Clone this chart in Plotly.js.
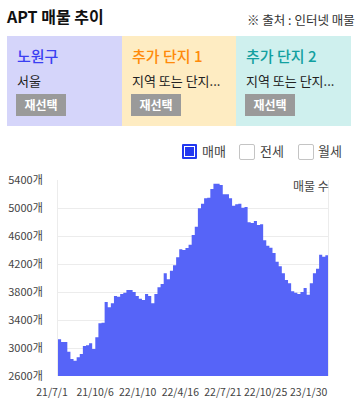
<!DOCTYPE html>
<html><head><meta charset="utf-8">
<script src="https://cdn.plot.ly/plotly-3.0.1.min.js"></script>
<style>
html,body{margin:0;padding:0;background:#fff;width:360px;height:406px;overflow:hidden;font-family:"Noto Sans CJK KR","Noto Sans",sans-serif;}
#chart{position:absolute;left:0;top:0;width:360px;height:406px;}
.ov{position:absolute;white-space:nowrap;z-index:10;}
.box{position:absolute;top:36px;height:90px;z-index:10;}
.bt{position:absolute;left:10px;top:9px;font-size:15px;font-weight:500;}
.bs{position:absolute;left:10px;top:35px;font-size:13px;color:#222;}
.btn{position:absolute;left:9px;top:58px;width:50px;height:22px;background:#9a9a9a;color:#fff;font-size:12px;font-weight:700;text-align:center;line-height:22px;}
.cb{position:absolute;top:144px;width:14px;height:14px;border:1px solid #c4c4c4;border-radius:2px;background:#fff;z-index:10;}
.cl{position:absolute;top:141px;font-size:13px;color:#444;z-index:10;}
</style></head>
<body>
<div id="chart"></div>
<div class="ov" style="left:7px;top:4px;font-size:16px;font-weight:700;color:#111;">APT 매물 추이</div>
<div class="ov" style="left:247px;top:10px;font-size:12.5px;color:#333;">※ 출처 : 인터넷 매물</div>
<div class="box" style="left:7px;width:115px;background:#d5d5fa;">
  <div class="bt" style="color:#3b3ff2;">노원구</div>
  <div class="bs">서울</div>
  <div class="btn">재선택</div>
</div>
<div class="box" style="left:122px;width:114px;background:#feecc2;">
  <div class="bt" style="color:#ff8a0a;">추가 단지 1</div>
  <div class="bs">지역 또는 단지...</div>
  <div class="btn">재선택</div>
</div>
<div class="box" style="left:236px;width:115px;background:#cff0ee;">
  <div class="bt" style="color:#12a0a0;">추가 단지 2</div>
  <div class="bs">지역 또는 단지...</div>
  <div class="btn">재선택</div>
</div>
<div class="cb" style="left:182px;border:2px solid #2238f0;width:11px;height:11px;background:#2238f0;box-shadow:inset 0 0 0 1px #fff;border-radius:1px;"></div>
<div class="cl" style="left:202px;">매매</div>
<div class="cb" style="left:239px;"></div>
<div class="cl" style="left:260px;">전세</div>
<div class="cb" style="left:298px;"></div>
<div class="cl" style="left:318px;">월세</div>
<script>
const dates = [
 '2021-07-01','2021-07-08','2021-07-15','2021-07-22','2021-07-29','2021-08-05','2021-08-12','2021-08-19','2021-08-26',
 '2021-09-02','2021-09-09','2021-09-16','2021-09-23','2021-09-30','2021-10-07','2021-10-14','2021-10-21','2021-10-28',
 '2021-11-04','2021-11-11','2021-11-18','2021-11-25','2021-12-02','2021-12-09','2021-12-16','2021-12-23','2021-12-30',
 '2022-01-06','2022-01-13','2022-01-20','2022-01-27','2022-02-03','2022-02-10','2022-02-17','2022-02-24',
 '2022-03-03','2022-03-10','2022-03-17','2022-03-24','2022-03-31','2022-04-07','2022-04-14','2022-04-21','2022-04-28',
 '2022-05-05','2022-05-12','2022-05-19','2022-05-26','2022-06-02','2022-06-09','2022-06-16','2022-06-23','2022-06-30',
 '2022-07-07','2022-07-14','2022-07-21','2022-07-28','2022-08-04','2022-08-11','2022-08-18','2022-08-25',
 '2022-09-01','2022-09-08','2022-09-15','2022-09-22','2022-09-29','2022-10-06','2022-10-13','2022-10-20','2022-10-27',
 '2022-11-03','2022-11-10','2022-11-17','2022-11-24','2022-12-01','2022-12-08','2022-12-15','2022-12-22','2022-12-29',
 '2023-01-05','2023-01-12','2023-01-19','2023-01-26','2023-02-02','2023-02-09','2023-02-16','2023-02-23'
];
const saleCounts = [
 3124,3085,3085,2946,2843,2818,2867,2914,3028,
 3040,3067,2985,3152,3352,3360,3657,3581,3638,
 3743,3733,3771,3790,3828,3828,3800,3743,3705,
 3686,3771,3743,3638,3771,3867,3914,4067,
 3981,4105,4181,4295,4410,4400,4429,4476,4614,
 4733,4995,5062,5138,5148,5271,5348,5348,5329,
 5195,5195,5138,5033,5052,5062,5005,5014,
 4795,4786,4814,4757,4767,4538,4462,4433,4357,
 4233,4167,4067,3971,3924,3810,3790,3771,3800,
 3857,3762,3924,4067,4133,4333,4305,4324
];
const tickDates = ['2021-07-01','2021-10-06','2022-01-10','2022-04-16','2022-07-21','2022-10-25','2023-01-30'];
const tickLabels = ['21/7/1','21/10/6','22/1/10','22/4/16','22/7/21','22/10/25','23/1/30'];
const yTicks = [2600,3000,3400,3800,4200,4600,5000,5400];
const yTickLabels = ['2600개','3000개','3400개','3800개','4200개','4600개','5000개','5400개'];
const endDate = '2023-03-02';

const xs = dates.concat([endDate]);
const ys = saleCounts.concat([saleCounts[saleCounts.length-1]]);

const fam = '"Noto Sans CJK KR","Noto Sans",sans-serif';
const font = {family:fam, size:11, color:'#444'};
Plotly.newPlot('chart', [{
  type:'scatter', mode:'lines', x:xs, y:ys,
  line:{width:0, shape:'hv', color:'#5664f8'},
  fill:'tozeroy', fillcolor:'#5664f8', hoverinfo:'skip'
}], {
  width:360, height:406,
  margin:{l:58, r:32, t:180, b:30},
  paper_bgcolor:'#fff', plot_bgcolor:'#fff',
  showlegend:false,
  font:font,
  xaxis:{type:'date', range:['2021-07-01','2023-03-01'], tickvals:tickDates, ticktext:tickLabels,
    tickangle:0, showgrid:false, zeroline:false, showline:false, ticks:'', tickfont:{family:fam, size:10.5, color:'#444'},
    ticklabelshift:-6, ticklabelstandoff:8, fixedrange:true},
  yaxis:{range:[2600,5400], tickvals:yTicks, ticktext:yTickLabels, tickfont:font,
    showgrid:true, gridcolor:'#ececec', gridwidth:1, zeroline:false,
    showline:true, mirror:true, linecolor:'#ececec', linewidth:1, ticks:'', ticklabelstandoff:12, fixedrange:true},
  annotations:[{xref:'paper', yref:'paper', x:1.01, y:0.97, xanchor:'right', yanchor:'middle',
    text:'매물 수', showarrow:false, font:{family:fam, size:12, color:'#444'}}]
}, {staticPlot:true, displayModeBar:false});
</script>
</body></html>
